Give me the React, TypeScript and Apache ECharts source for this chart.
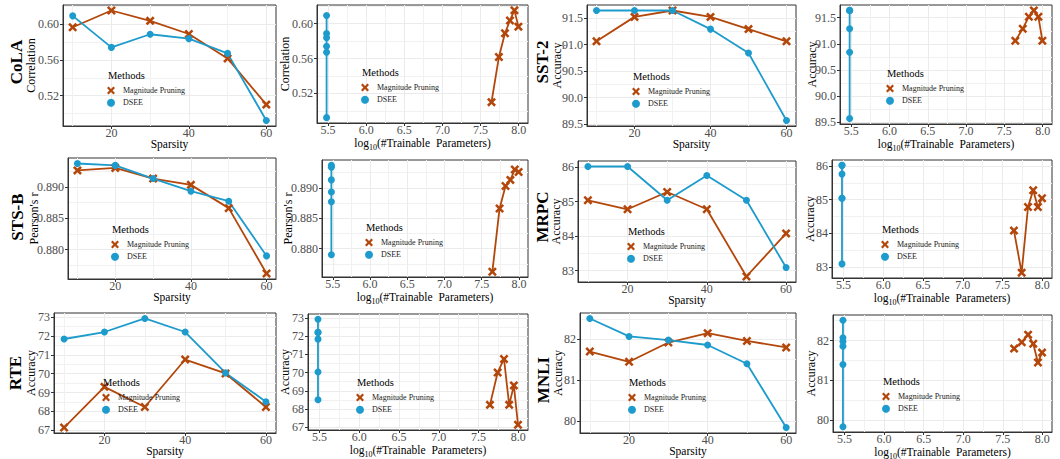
import React, { useEffect, useRef } from "react";
import * as echarts from "echarts";

// ---------- data ----------
const sparsity = [10, 20, 30, 40, 50, 60];
const logParamsMP = [7.996, 7.944, 7.885, 7.82, 7.74, 7.643];
const logParamsDSEE = [5.48, 5.48, 5.48, 5.48, 5.48, 5.48];

const colaMP = [0.5966, 0.6153, 0.6037, 0.589, 0.5617, 0.51];
const colaDSEE = [0.6093, 0.574, 0.5887, 0.5838, 0.5673, 0.4922];
const sst2MP = [91.06, 91.52, 91.64, 91.52, 91.29, 91.06];
const sst2DSEE = [91.64, 91.64, 91.64, 91.29, 90.84, 89.57];
const stsbMP = [0.8926, 0.893, 0.8913, 0.8903, 0.8866, 0.8762];
const stsbDSEE = [0.8937, 0.8934, 0.8913, 0.8893, 0.8877, 0.879];
const mrpcMP = [85.04, 84.78, 85.28, 84.78, 82.83, 84.08];
const mrpcDSEE = [86.02, 86.02, 85.04, 85.76, 85.04, 83.09];
const rteMP = [67.14, 69.3, 68.23, 70.75, 70.01, 68.23];
const rteDSEE = [71.84, 72.21, 72.93, 72.21, 70.04, 68.51];
const mnliMP = [81.7, 81.45, 81.92, 82.15, 81.96, 81.8];
const mnliDSEE = [82.51, 82.07, 81.98, 81.86, 81.4, 79.84];

const taskNames = ["CoLA", "SST-2", "STS-B", "MRPC", "RTE", "MNLI"];
const yTitles = ["Correlation", "Accuracy", "Pearson's r", "Accuracy", "Accuracy", "Accuracy"];
const mpByTask = [colaMP, sst2MP, stsbMP, mrpcMP, rteMP, mnliMP];
const dseeByTask = [colaDSEE, sst2DSEE, stsbDSEE, mrpcDSEE, rteDSEE, mnliDSEE];

const yMajorTicks = [
  [0.52, 0.56, 0.6],
  [89.5, 90, 90.5, 91, 91.5],
  [0.88, 0.885, 0.89],
  [83, 84, 85, 86],
  [67, 68, 69, 70, 71, 72, 73],
  [80, 81, 82],
];
const yMinorTicks = [
  [0.5, 0.54, 0.58, 0.62],
  [89.75, 90.25, 90.75, 91.25],
  [0.8775, 0.8825, 0.8875, 0.8925],
  [83.5, 84.5, 85.5],
  [67.5, 68.5, 69.5, 70.5, 71.5, 72.5],
  [80.5, 81.5, 82.5],
];
const yDecimals = [2, 1, 3, 0, 0, 0];

const sparsityTicks = [20, 40, 60];
const sparsityMinor = [10, 30, 50];
const logTicks = [5.5, 6, 6.5, 7, 7.5, 8];
const logMinor = [5.75, 6.25, 6.75, 7.25, 7.75];

const seriesNames = ["Magnitude Pruning", "DSEE"];

// ---------- layout (px) ----------
// [left, top, width, height, yNameGap, methodsX, methodsY, xNameGap]
const panelLayout = [
  [63, 5, 213, 121, 26, 108, 75, 10],
  [317, 5, 211, 118, 26, 362, 72, 12],
  [587, 5, 209, 121, 24, 633, 76, 10],
  [840, 5, 212, 119, 22, 887, 73, 12],
  [68, 158, 208, 121, 28, 112, 229, 10],
  [322, 160, 206, 117, 28, 366, 227, 12],
  [578, 161, 218, 121, 16, 628, 231, 10],
  [832, 160, 220, 118, 16, 882, 229, 12],
  [54, 313, 222, 120, 17, 103, 382, 10],
  [308, 314, 220, 116, 17, 357, 382, 12],
  [580, 313, 216, 120, 16, 629, 382, 10],
  [833, 315, 219, 117, 16, 883, 381, 12],
];
const rowLabelPos = [
  [16, 62],
  [542, 62],
  [17, 217],
  [542, 217],
  [15, 373],
  [543, 380],
];

const MP_COLOR = "#B3470B";
const DSEE_COLOR = "#1C9BCC";
const FONT = "'Liberation Serif', 'Times New Roman', serif";
const X_PATH =
  "path://M2,0L5,3L8,0L10,2L7,5L10,8L8,10L5,7L2,10L0,8L3,5L0,2Z";

function expand(vals: number[]): [number, number] {
  const mn = Math.min(...vals);
  const mx = Math.max(...vals);
  const e = (mx - mn) * 0.05;
  return [mn - e, mx + e];
}

function buildOption() {
  const grid: any[] = [];
  const xAxis: any[] = [];
  const yAxis: any[] = [];
  const series: any[] = [];
  const legend: any[] = [];
  const graphic: any[] = [];

  for (let t = 0; t < 6; t++) {
    for (let k = 0; k < 2; k++) {
      const p = t * 2 + k;
      const [left, top, width, height, yGap, mx, my, xGap] = panelLayout[p];
      const isLog = k === 1;
      const xsMP = isLog ? logParamsMP : sparsity;
      const xsDS = isLog ? logParamsDSEE : sparsity;
      const [xMin, xMax] = expand([...xsMP, ...xsDS]);
      const [yMin, yMax] = expand([...mpByTask[t], ...dseeByTask[t]]);
      grid.push({
        left,
        top,
        width,
        height,
        show: true,
        backgroundColor: "#fff",
        borderColor: "#333",
        borderWidth: 1,
        outerBoundsMode: "none",
        containLabel: false,
      });
      const xMajor = isLog ? logTicks : sparsityTicks;
      const xMinorV = isLog ? logMinor : sparsityMinor;
      const xDec = isLog ? 1 : 0;
      const xi = xAxis.length;
      xAxis.push({
        gridIndex: p,
        type: "value",
        min: xMin,
        max: xMax,
        position: "bottom",
        axisLine: { show: true, onZero: false, lineStyle: { color: "#333", width: 1 } },
        axisTick: { show: true, length: 3, customValues: xMajor, lineStyle: { color: "#333" } },
        axisLabel: {
          customValues: xMajor,
          formatter: (v: number) => v.toFixed(xDec),
          margin: 1,
          fontSize: 12,
          color: "#4D4D4D",
          fontFamily: FONT,
        },
        splitLine: { show: true, lineStyle: { color: "#EBEBEB", width: 1 } },
        name: isLog ? "log{sub|10}(#Trainable  Parameters)" : "Sparsity",
        nameLocation: "middle",
        nameGap: xGap,
        nameMoveOverlap: false,
        nameTextStyle: {
          fontFamily: FONT,
          fontSize: 11.5,
          color: "#000",
          lineHeight: 16,
          rich: {
            sub: { fontFamily: FONT, fontSize: 8, color: "#000", lineHeight: 9, verticalAlign: "bottom" },
          },
        },
      });
      xAxis.push({
        gridIndex: p,
        type: "value",
        min: xMin,
        max: xMax,
        position: "top",
        axisLine: { show: false },
        axisTick: { show: false, customValues: xMinorV },
        axisLabel: { show: false, customValues: xMinorV },
        splitLine: { show: true, lineStyle: { color: "#F1F1F1", width: 1 } },
      });
      const yi = yAxis.length;
      const yDec = yDecimals[t];
      yAxis.push({
        gridIndex: p,
        type: "value",
        min: yMin,
        max: yMax,
        position: "left",
        axisLine: { show: true, onZero: false, lineStyle: { color: "#333", width: 1 } },
        axisTick: { show: true, length: 3, customValues: yMajorTicks[t], lineStyle: { color: "#333" } },
        axisLabel: {
          customValues: yMajorTicks[t],
          formatter: (v: number) => v.toFixed(yDec),
          margin: 4,
          fontSize: 12,
          color: "#4D4D4D",
          fontFamily: FONT,
        },
        splitLine: { show: true, lineStyle: { color: "#EBEBEB", width: 1 } },
        name: yTitles[t],
        nameLocation: "middle",
        nameGap: yGap,
        nameMoveOverlap: false,
        nameTextStyle: { fontFamily: FONT, fontSize: 12, color: "#000" },
      });
      yAxis.push({
        gridIndex: p,
        type: "value",
        min: yMin,
        max: yMax,
        position: "right",
        axisLine: { show: false },
        axisTick: { show: false, customValues: yMinorTicks[t] },
        axisLabel: { show: false, customValues: yMinorTicks[t] },
        splitLine: { show: true, lineStyle: { color: "#F1F1F1", width: 1 } },
      });

      series.push({
        type: "line",
        name: seriesNames[0],
        xAxisIndex: xi,
        yAxisIndex: yi,
        data: xsMP.map((x, j) => [x, mpByTask[t][j]]),
        symbol: X_PATH,
        symbolSize: 9,
        lineStyle: { color: MP_COLOR, width: 1.8 },
        itemStyle: { color: MP_COLOR, borderWidth: 0 },
        color: MP_COLOR,
        clip: false,
      });
      series.push({
        type: "line",
        name: seriesNames[1],
        xAxisIndex: xi,
        yAxisIndex: yi,
        data: xsDS.map((x, j) => [x, dseeByTask[t][j]]),
        symbol: "circle",
        symbolSize: 7,
        lineStyle: { color: DSEE_COLOR, width: 1.8 },
        itemStyle: { color: DSEE_COLOR, borderWidth: 0 },
        color: DSEE_COLOR,
        clip: false,
      });

      legend.push({
        orient: "vertical",
        left: mx + 6 - 7,
        top: my + 15.5 - 4,
        padding: 0,
        itemWidth: 14,
        itemHeight: 8,
        itemGap: 4.3,
        symbolKeepAspect: true,
        selectedMode: false,
        itemStyle: { borderWidth: 0 },
        data: [
          { name: seriesNames[0], icon: X_PATH },
          { name: seriesNames[1], icon: "circle" },
        ],
        textStyle: { fontFamily: FONT, fontSize: 8, lineHeight: 8, color: "#1A1A1A" },
      });

      graphic.push({
        type: "text",
        x: mx,
        y: my,
        z: 100,
        style: {
          text: "Methods",
          fontFamily: FONT,
          fontSize: 10.5,
          fill: "#000",
          align: "left",
          verticalAlign: "middle",
          textAlign: "left",
          textVerticalAlign: "middle",
        },
      });
    }
    const [rx, ry] = rowLabelPos[t];
    graphic.push({
      type: "text",
      x: rx,
      y: ry,
      rotation: Math.PI / 2,
      z: 100,
      style: {
        text: taskNames[t],
        fontFamily: FONT,
        fontWeight: "bold",
        fontSize: 17,
        fill: "#000",
        align: "center",
        verticalAlign: "middle",
        textAlign: "center",
        textVerticalAlign: "middle",
      },
    });
  }

  return {
    animation: false,
    backgroundColor: "#fff",
    grid,
    xAxis,
    yAxis,
    series,
    legend,
    graphic,
  };
}

export default function App() {
  const ref = useRef<HTMLDivElement>(null);
  useEffect(() => {
    if (!ref.current) return;
    const chart = echarts.init(ref.current, null, { renderer: "svg" });
    chart.setOption(buildOption() as any);
    return () => chart.dispose();
  }, []);
  return (
    <div
      ref={ref}
      style={{ position: "fixed", left: 0, top: 0, width: 1060, height: 459, background: "#fff" }}
    />
  );
}
